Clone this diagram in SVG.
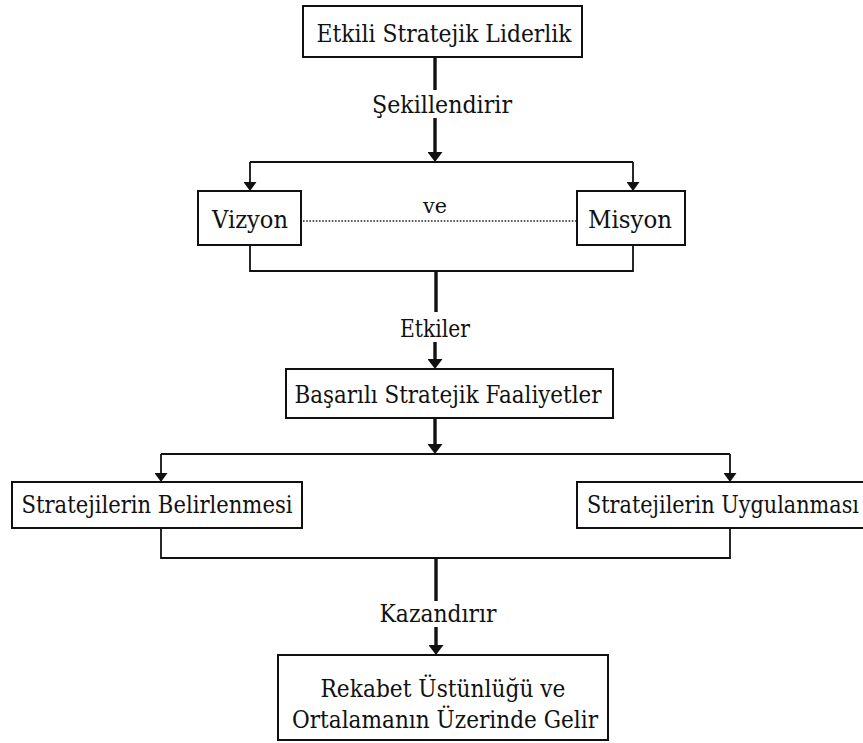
<svg xmlns="http://www.w3.org/2000/svg" width="863" height="743" viewBox="0 0 863 743">
  <style>
    .box { fill: #fff; stroke: #111; stroke-width: 2; }
    .lbl { font-family: "DejaVu Serif", serif; font-size: 25px; fill: #111; text-anchor: middle; }
    .start { text-anchor: start; }
    .small { font-size: 21px; }
    .thick { fill: none; stroke: #111; stroke-width: 3.4; }
    .thin { fill: none; stroke: #111; stroke-width: 1.8; }
    .dot { fill: none; stroke: #222; stroke-width: 1.5; stroke-dasharray: 1.6 1.6; }
  </style>
  <defs>
    <marker id="head" viewBox="0 0 10 15" markerWidth="10" markerHeight="15" refX="4" refY="7.5" orient="auto" markerUnits="userSpaceOnUse" preserveAspectRatio="none">
      <path d="M0,0 L10,7.5 L0,15 z" fill="#111"/>
    </marker>
    <marker id="headThin" viewBox="0 0 9 13" markerWidth="9" markerHeight="13" refX="3" refY="6.5" orient="auto" markerUnits="userSpaceOnUse" preserveAspectRatio="none">
      <path d="M0,0 L9,6.5 L0,13 z" fill="#111"/>
    </marker>
  </defs>

  <rect width="863" height="743" fill="#fff"/>

  <g id="connectors">
    <!-- leadership shapes vision and mission -->
    <line class="thick" x1="435" y1="57" x2="435" y2="90"/>
    <line class="thick" x1="435" y1="118" x2="435" y2="156" marker-end="url(#head)"/>
    <line class="thin" x1="250" y1="162" x2="633" y2="162"/>
    <line class="thin" x1="250" y1="162" x2="250" y2="185" marker-end="url(#headThin)"/>
    <line class="thin" x1="633" y1="162" x2="633" y2="185" marker-end="url(#headThin)"/>
    <line class="dot" x1="303" y1="221" x2="577" y2="221"/>
    <text class="lbl small" x="435" y="213" textLength="24" lengthAdjust="spacingAndGlyphs">ve</text>
    <path class="thin" d="M250,245 V271 H633 V245"/>
    <!-- vision and mission affect strategic actions -->
    <line class="thick" x1="436" y1="271" x2="436" y2="312"/>
    <line class="thick" x1="435" y1="342" x2="435" y2="363" marker-end="url(#head)"/>
    <!-- strategic actions split -->
    <line class="thick" x1="435" y1="418" x2="435" y2="448" marker-end="url(#head)"/>
    <line class="thin" x1="161" y1="454" x2="730" y2="454"/>
    <line class="thin" x1="161" y1="454" x2="161" y2="476" marker-end="url(#headThin)"/>
    <line class="thin" x1="730" y1="454" x2="730" y2="476" marker-end="url(#headThin)"/>
    <path class="thin" d="M161,528 V558 H730 V528"/>
    <!-- result -->
    <line class="thick" x1="436" y1="558" x2="436" y2="601"/>
    <line class="thick" x1="436" y1="627" x2="436" y2="649" marker-end="url(#head)"/>
    <text class="lbl" x="442" y="113" textLength="140" lengthAdjust="spacingAndGlyphs">Şekillendirir</text>
    <text class="lbl" x="435" y="337" textLength="70" lengthAdjust="spacingAndGlyphs">Etkiler</text>
    <text class="lbl" x="438" y="622" textLength="117" lengthAdjust="spacingAndGlyphs">Kazandırır</text>
  </g>

  <g id="liderlik">
    <rect class="box" x="303" y="6" width="279" height="51"/>
    <text class="lbl" x="444" y="42" textLength="255" lengthAdjust="spacingAndGlyphs">Etkili Stratejik Liderlik</text>
  </g>

  <g id="vizyon">
    <rect class="box" x="198" y="191" width="103" height="54"/>
    <text class="lbl" x="250" y="228" textLength="76" lengthAdjust="spacingAndGlyphs">Vizyon</text>
  </g>

  <g id="misyon">
    <rect class="box" x="577" y="191" width="108" height="54"/>
    <text class="lbl" x="630" y="228" textLength="84" lengthAdjust="spacingAndGlyphs">Misyon</text>
  </g>

  <g id="faaliyetler">
    <rect class="box" x="286" y="369" width="327" height="49"/>
    <text class="lbl" x="448" y="403" textLength="307" lengthAdjust="spacingAndGlyphs">Başarılı Stratejik Faaliyetler</text>
  </g>

  <g id="belirlenmesi">
    <rect class="box" x="12" y="482" width="290" height="46"/>
    <text class="lbl" x="157" y="513" textLength="271" lengthAdjust="spacingAndGlyphs">Stratejilerin Belirlenmesi</text>
  </g>

  <g id="uygulanmasi">
    <rect class="box" x="577" y="482" width="300" height="46"/>
    <text class="lbl start" x="587" y="513" textLength="272" lengthAdjust="spacingAndGlyphs">Stratejilerin Uygulanması</text>
  </g>

  <g id="rekabet">
    <rect class="box" x="278" y="655" width="330" height="85"/>
    <text class="lbl" x="443" y="697" textLength="245" lengthAdjust="spacingAndGlyphs">Rekabet Üstünlüğü ve</text>
    <text class="lbl" x="445" y="728" textLength="306" lengthAdjust="spacingAndGlyphs">Ortalamanın Üzerinde Gelir</text>
  </g>
</svg>
